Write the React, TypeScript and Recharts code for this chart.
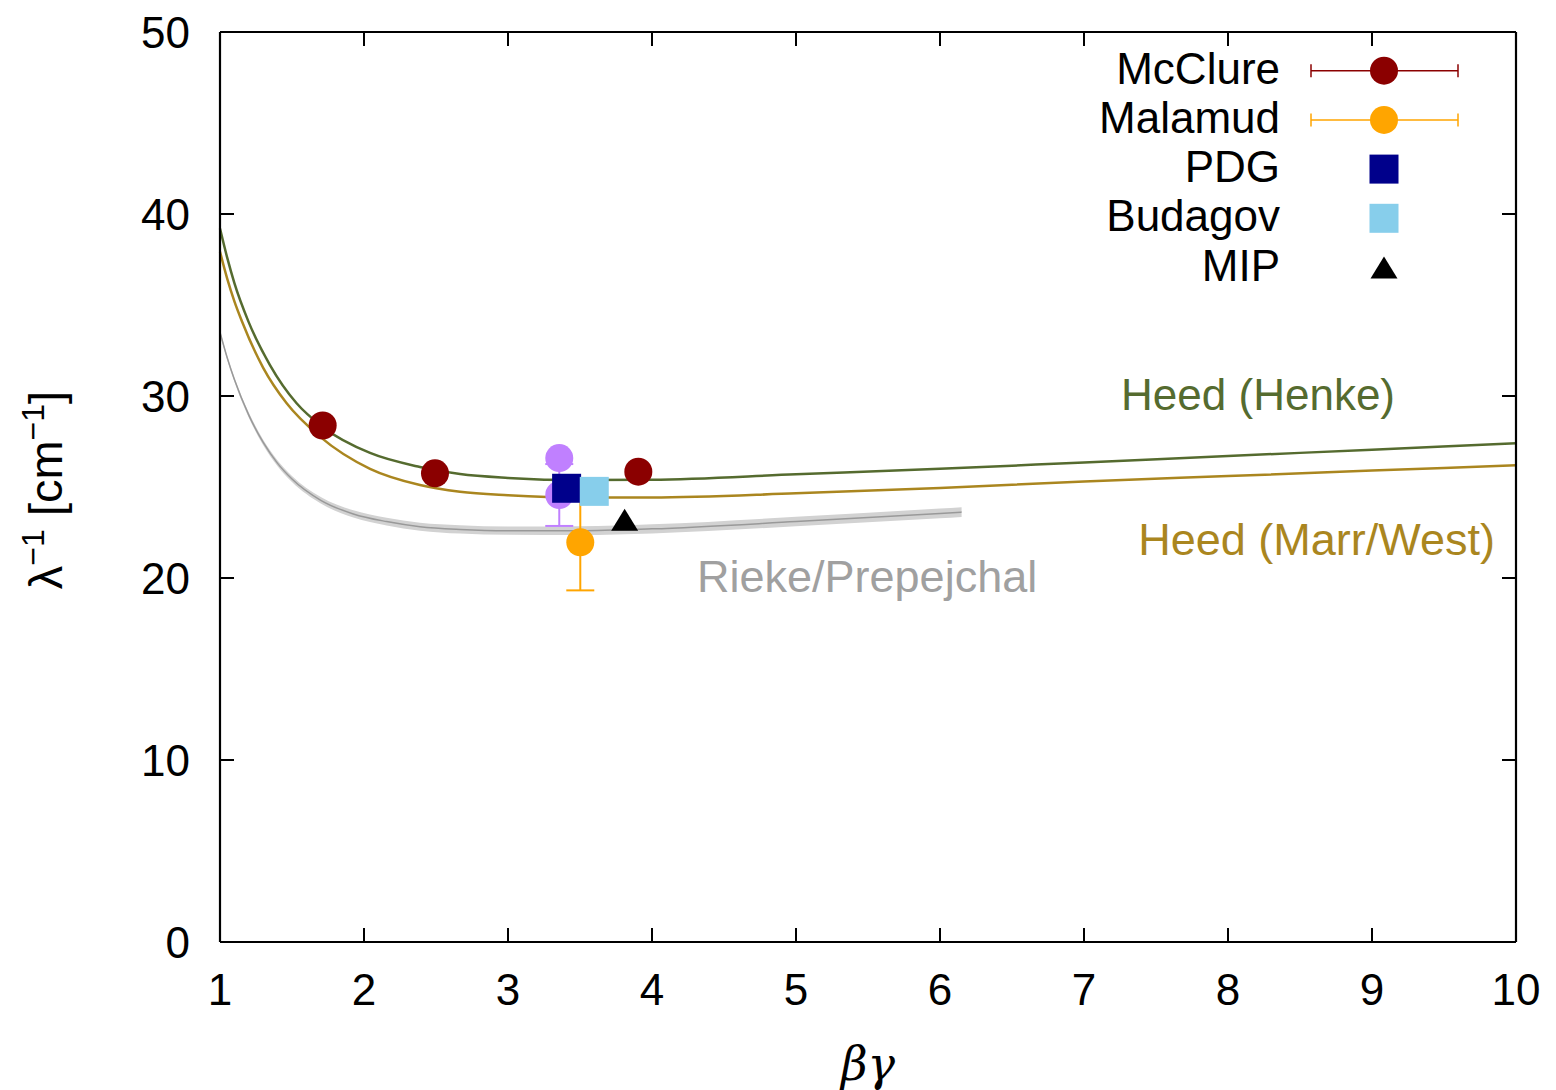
import React from 'react';
import { ComposedChart, Line, Area, Scatter, XAxis, YAxis, ErrorBar } from 'recharts';

// ---- data ----
const henkeX = [1.0, 1.05, 1.1, 1.197, 1.347, 1.532, 1.713, 2.042, 2.389, 2.667, 3.0, 3.5, 4.0, 5.0, 6.0, 7.0, 8.0, 9.0, 10.0];
const henkeY = [39.2, 37.6, 36.2, 34.1, 31.7, 29.6, 28.3, 26.87, 26.1, 25.71, 25.5, 25.38, 25.4, 25.7, 26.0, 26.35, 26.7, 27.05, 27.4];

const marrX = [1.0, 1.05, 1.1, 1.15, 1.3, 1.463, 1.694, 2.042, 2.389, 2.667, 3.0, 3.5, 4.0, 5.0, 6.0, 7.0, 8.0, 9.0, 10.0];
const marrY = [37.93, 36.45, 35.2, 34.15, 31.55, 29.6, 27.77, 26.0, 25.11, 24.74, 24.55, 24.42, 24.42, 24.65, 24.95, 25.3, 25.6, 25.9, 26.2];

const riekeX = [1.0, 1.05, 1.1, 1.2, 1.3, 1.4, 1.5, 1.7, 1.926, 2.157, 2.389, 2.667, 3.0, 3.5, 4.0, 5.0, 6.0, 6.15];
const riekeY = [33.5, 32.1, 30.9, 28.95, 27.45, 26.3, 25.44, 24.27, 23.52, 23.1, 22.82, 22.67, 22.6, 22.6, 22.7, 23.1, 23.55, 23.62];
const riekeErr = [0.1, 0.11, 0.12, 0.14, 0.15, 0.16, 0.17, 0.18, 0.2, 0.21, 0.22, 0.23, 0.23, 0.24, 0.25, 0.26, 0.27, 0.27];

const mcclureX = [1.713, 2.493, 3.905];
const mcclureY = [28.38, 25.75, 25.84];

const malamudX = [3.502];
const malamudY = [21.96];
const malamudErr = [2.64];

const otherX = [3.356, 3.356];
const otherY = [26.59, 24.56];
const otherErr = [0, 1.7];

const pdgX = [3.407];
const pdgY = [24.93];

const budagovX = [3.599];
const budagovY = [24.76];

const mipX = [3.81];
const mipY = [23.2];

const xTicks = [1, 2, 3, 4, 5, 6, 7, 8, 9, 10];
const yTicks = [0, 10, 20, 30, 40, 50];

const legendNames = ['McClure', 'Malamud', 'PDG', 'Budagov', 'MIP'];

// ---- build series tables ----
const henkeData = henkeX.map((x, i) => ({ x, y: henkeY[i] }));
const marrData = marrX.map((x, i) => ({ x, y: marrY[i] }));
const riekeData = riekeX.map((x, i) => ({ x, y: riekeY[i], band: [riekeY[i] - riekeErr[i], riekeY[i] + riekeErr[i]] }));
const mcclureData = mcclureX.map((x, i) => ({ x, y: mcclureY[i] }));
const malamudData = malamudX.map((x, i) => ({ x, y: malamudY[i], err: malamudErr[i] }));
const otherData = otherX.map((x, i) => ({ x, y: otherY[i], err: otherErr[i] }));
const pdgData = pdgX.map((x, i) => ({ x, y: pdgY[i] }));
const budagovData = budagovX.map((x, i) => ({ x, y: budagovY[i] }));
const mipData = mipX.map((x, i) => ({ x, y: mipY[i] }));

const FONT = '"Liberation Sans", Arial, sans-serif';
const GREEN = '#556b2f';
const GOLD = '#aa861f';
const DARKRED = '#8b0000';
const ORANGE = '#ffa500';
const NAVY = '#00008b';
const SKY = '#87ceeb';
const PURPLE = '#c080ff';
const GRAYTXT = '#a0a0a0';

const circle = (color: string) => (p: any) => <circle cx={p.cx} cy={p.cy} r={14} fill={color} />;
const square = (color: string) => (p: any) => <rect x={p.cx - 14.5} y={p.cy - 14.5} width={29} height={29} fill={color} />;
const triangle = (p: any) => (
  <path d={`M${p.cx},${p.cy - 11} L${p.cx + 13.5},${p.cy + 11} L${p.cx - 13.5},${p.cy + 11} Z`} fill="#000" />
);

const tickStyle = { fill: '#000', fontSize: 44, fontFamily: FONT };
const blank = () => '';
const axisLineStyle = { stroke: '#000', strokeWidth: 2.2 };
const tickLineStyle = { stroke: '#000', strokeWidth: 2 };

export default function App() {
  const legendY0 = 70.7;
  const legendDy = 49.2;
  const symX = 1384;
  return (
    <div style={{ position: 'absolute', left: 0, top: 0, width: 1556, height: 1090, background: '#fff' }}>
      <ComposedChart width={1556} height={1090} margin={{ top: 30, right: 38, bottom: 88, left: 160 }}>
        <XAxis
          xAxisId="b"
          dataKey="x"
          type="number"
          domain={[1, 10]}
          ticks={xTicks}
          interval={0}
          height={60}
          tickSize={-14}
          tickMargin={46}
          tick={tickStyle}
          axisLine={axisLineStyle}
          tickLine={tickLineStyle}
        />
        <XAxis
          xAxisId="t"
          orientation="top"
          dataKey="x"
          type="number"
          domain={[1, 10]}
          ticks={xTicks}
          interval={0}
          height={2}
          tickSize={-14}
          tickFormatter={blank}
          tick={{ fontSize: 1, fill: 'none' }}
          axisLine={axisLineStyle}
          tickLine={tickLineStyle}
        />
        <YAxis
          yAxisId="l"
          type="number"
          domain={[0, 50]}
          ticks={yTicks}
          interval={0}
          width={60}
          tickSize={-14}
          tickMargin={44}
          tick={tickStyle}
          axisLine={axisLineStyle}
          tickLine={tickLineStyle}
        />
        <YAxis
          yAxisId="r"
          orientation="right"
          type="number"
          domain={[0, 50]}
          ticks={yTicks}
          interval={0}
          width={2}
          tickSize={-14}
          tickFormatter={blank}
          tick={{ fontSize: 1, fill: 'none' }}
          axisLine={axisLineStyle}
          tickLine={tickLineStyle}
        />

        {/* invisible series bound to the mirror axes so their ticks are drawn */}
        <Line xAxisId="t" yAxisId="r" data={henkeData} dataKey="y" stroke="none" dot={false} activeDot={false} legendType="none" isAnimationActive={false} />

        <Scatter xAxisId="b" yAxisId="l" data={mcclureData} dataKey="y" shape={circle(DARKRED)} isAnimationActive={false} />

        <Area xAxisId="b" yAxisId="l" data={riekeData} dataKey="band" type="monotone" stroke="none" fill="#d2d2d2" fillOpacity={1} isAnimationActive={false} />
        <Line xAxisId="b" yAxisId="l" data={riekeData} dataKey="y" type="monotone" stroke="#999999" strokeWidth={1.5} dot={false} isAnimationActive={false} />
        <Line xAxisId="b" yAxisId="l" data={marrData} dataKey="y" type="monotone" stroke={GOLD} strokeWidth={2.5} dot={false} isAnimationActive={false} />
        <Line xAxisId="b" yAxisId="l" data={henkeData} dataKey="y" type="monotone" stroke={GREEN} strokeWidth={2.5} dot={false} isAnimationActive={false} />

        <Scatter xAxisId="b" yAxisId="l" data={malamudData} dataKey="y" shape={circle(ORANGE)} isAnimationActive={false}>
          <ErrorBar dataKey="err" direction="y" width={14} stroke={ORANGE} strokeWidth={2} />
        </Scatter>
        <Scatter xAxisId="b" yAxisId="l" data={otherData} dataKey="y" shape={circle(PURPLE)} isAnimationActive={false}>
          <ErrorBar dataKey="err" direction="y" width={14} stroke={PURPLE} strokeWidth={2} />
        </Scatter>
        <Scatter xAxisId="b" yAxisId="l" data={pdgData} dataKey="y" shape={square(NAVY)} isAnimationActive={false} />
        <Scatter xAxisId="b" yAxisId="l" data={budagovData} dataKey="y" shape={square(SKY)} isAnimationActive={false} />
        <Scatter xAxisId="b" yAxisId="l" data={mipData} dataKey="y" shape={triangle} isAnimationActive={false} />
      </ComposedChart>

      <svg width={1556} height={1090} style={{ position: 'absolute', left: 0, top: 0, pointerEvents: 'none' }}>
        {legendNames.map((n, i) => (
          <text key={n} x={1280} y={legendY0 + i * legendDy + 13} textAnchor="end" fontSize={44} fontFamily={FONT} fill="#000">
            {n}
          </text>
        ))}
        {[0, 1].map((i) => {
          const c = i === 0 ? DARKRED : ORANGE;
          const y = legendY0 + i * legendDy;
          return (
            <g key={i}>
              <line x1={1311} x2={1458} y1={y} y2={y} stroke={c} strokeWidth={1.5} />
              <line x1={1311} x2={1311} y1={y - 6.5} y2={y + 6.5} stroke={c} strokeWidth={1.5} />
              <line x1={1458} x2={1458} y1={y - 6.5} y2={y + 6.5} stroke={c} strokeWidth={1.5} />
              <circle cx={symX} cy={y} r={14} fill={c} />
            </g>
          );
        })}
        <rect x={symX - 14.5} y={legendY0 + 2 * legendDy - 14.5} width={29} height={29} fill={NAVY} />
        <rect x={symX - 14.5} y={legendY0 + 3 * legendDy - 14.5} width={29} height={29} fill={SKY} />
        <path
          d={`M${symX},${legendY0 + 4 * legendDy - 11} L${symX + 13.5},${legendY0 + 4 * legendDy + 11} L${symX - 13.5},${legendY0 + 4 * legendDy + 11} Z`}
          fill="#000"
        />

        <text x={1395} y={410} textAnchor="end" fontSize={44} fontFamily={FONT} fill={GREEN}>Heed (Henke)</text>
        <text x={1495} y={555} textAnchor="end" fontSize={45} fontFamily={FONT} fill={GOLD}>Heed (Marr/West)</text>
        <text x={697} y={592} textAnchor="start" fontSize={45} fontFamily={FONT} fill={GRAYTXT}>Rieke/Prepejchal</text>

        <text x={868} y={1080} textAnchor="middle" fontSize={46} fontFamily='"DejaVu Serif", "Liberation Serif", serif' fontStyle="italic" fill="#000">βγ</text>
        <text x={62} y={490} transform="rotate(-90, 62, 490)" textAnchor="middle" fontSize={47} fontFamily={FONT} fill="#000">
          λ<tspan dy={-18} fontSize={32}>−1</tspan>
          <tspan dy={18}>  [cm</tspan>
          <tspan dy={-18} fontSize={32}>−1</tspan>
          <tspan dy={18}>]</tspan>
        </text>
      </svg>
    </div>
  );
}
